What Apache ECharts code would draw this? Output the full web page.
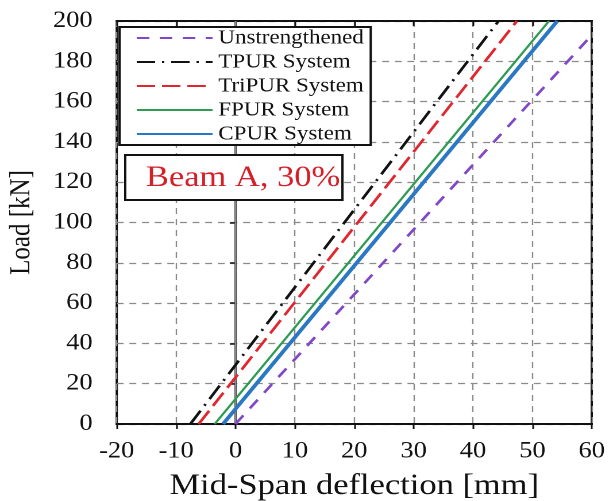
<!DOCTYPE html>
<html>
<head>
<meta charset="utf-8">
<script src="https://cdn.jsdelivr.net/npm/echarts@6/dist/echarts.min.js"></script>
<style>
  html, body { margin: 0; padding: 0; background: #fff; overflow: hidden; }
  /* the source figure is stretched sideways, so draw narrower and widen it */
  #chart { width: 530px; height: 501px; transform: scaleX(1.149); transform-origin: 0 0; }
</style>
</head>
<body>
<div id="chart"></div>
<script>
// deflection [mm], load [kN] endpoints
const seriesNames = ["Unstrengthened", "TPUR System", "TriPUR System", "FPUR System", "CPUR System"];
const unstrengthened = [[0, 0], [60, 193]];
const tpur = [[-7.6, 0], [44.3, 200]];
const tripur = [[-6.2, 0], [47.4, 200]];
const fpur = [[-3.5, 0], [52.8, 200]];
const cpur = [[-2.1, 0], [54.2, 200]];
const xTicks = [-20, -10, 0, 10, 20, 30, 40, 50, 60];
const yTicks = [0, 20, 40, 60, 80, 100, 120, 140, 160, 180, 200];

const serif = "Liberation Serif";
const chart = echarts.init(document.getElementById("chart"), null, { devicePixelRatio: 2 });

function line(name, data, color, width, type) {
  return {
    name,
    type: "line",
    data,
    symbol: "none",
    lineStyle: { color, width, type },
    itemStyle: { color },
    z: 3,
  };
}

const gridDash = { color: "#8a8a8a", width: 1.2, type: [6, 5] };
const tickOut = { length: 5, lineStyle: { color: "#111", width: 1.5 } };

chart.setOption({
  animation: false,
  title: {
    text: "Beam A, 30%",
    left: 109,
    top: 155,
    padding: [8, 2, 7, 18],
    borderColor: "#111",
    borderWidth: 2,
    backgroundColor: "#fff",
    textStyle: { color: "#d4202a", fontFamily: serif, fontSize: 30, fontWeight: "normal" },
  },
  legend: {
    orient: "vertical",
    left: 104,
    top: 27,
    itemWidth: 66,
    itemHeight: 14,
    itemGap: 4,
    padding: [1, 6, 1, 14],
    backgroundColor: "#fff",
    borderColor: "#111",
    borderWidth: 2,
    itemStyle: { opacity: 0 },
    data: seriesNames,
    textStyle: { color: "#111", fontFamily: serif, fontSize: 20 },
  },
  grid: {
    left: 101.6, right: 15, top: 21, bottom: 77,
    outerBoundsMode: "none",
    show: true, borderColor: "#111", borderWidth: 2,
  },
  xAxis: [{
    type: "value",
    min: -20,
    max: 60,
    interval: 10,
    name: "Mid-Span deflection [mm]",
    nameLocation: "middle",
    nameGap: 47,
    nameTextStyle: { color: "#111", fontFamily: serif, fontSize: 30 },
    axisLine: { onZero: false, lineStyle: { color: "#111", width: 2 } },
    axisTick: tickOut,
    axisLabel: {
      color: "#111", fontFamily: serif, fontSize: 23, margin: 16,
      formatter: (v) => (xTicks.includes(v) ? String(v) : ""),
    },
    splitLine: { lineStyle: gridDash },
  }, {
    type: "value",
    position: "top",
    min: -20,
    max: 60,
    interval: 10,
    axisLine: { onZero: false, lineStyle: { color: "#111", width: 2 } },
    axisTick: { inside: true, length: 5, lineStyle: { color: "#111", width: 1.5 } },
    axisLabel: { show: false },
    splitLine: { show: false },
  }],
  yAxis: {
    type: "value",
    min: 0,
    max: 200,
    interval: 20,
    name: "Load [kN]",
    nameLocation: "middle",
    nameGap: 70,
    nameTextStyle: { color: "#111", fontFamily: serif, fontSize: 25 },
    axisLine: { lineStyle: { color: "#111", width: 2 } },
    axisTick: tickOut,
    axisLabel: {
      color: "#111", fontFamily: serif, fontSize: 23, margin: 21,
      formatter: (v) => (yTicks.includes(v) ? String(v) : ""),
    },
    splitLine: { lineStyle: gridDash },
  },
  series: [
    Object.assign(line(seriesNames[0], unstrengthened, "#8048c4", 2.5, [11, 9]), {
      markLine: {
        silent: true,
        symbol: "none",
        label: { show: false },
        lineStyle: { color: "#888", width: 1.5, type: "solid" },
        data: [{ xAxis: 0 }],
        z: 1,
      },
    }),
    line(seriesNames[1], tpur, "#111", 2.5, [16, 6, 2, 6]),
    line(seriesNames[2], tripur, "#e0262e", 2.5, [16, 6]),
    line(seriesNames[3], fpur, "#2e9a52", 2),
    line(seriesNames[4], cpur, "#2a78c4", 3.5),
  ],
});
</script>
</body>
</html>
